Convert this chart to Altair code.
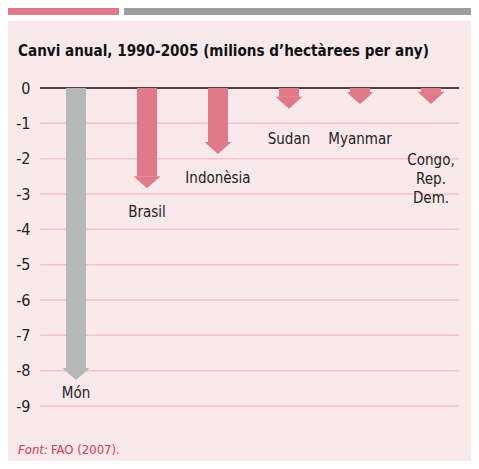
import altair as alt
import pandas as pd

countries = ["Món", "Brasil", "Indonèsia", "Sudan", "Myanmar", "Congo, Rep. Dem."]
label_lines = [["Món"], ["Brasil"], ["Indonèsia"], ["Sudan"], ["Myanmar"], ["Congo,", "Rep.", "Dem."]]
change = [-8.27, -2.84, -1.87, -0.59, -0.46, -0.45]
label_pos = [-8.64, -3.51, -2.55, -1.44, -1.44, -2.04]
kind = ["Món", "País", "País", "País", "País", "País"]
y_ticks = [0, -1, -2, -3, -4, -5, -6, -7, -8, -9]

title_text = "Canvi anual, 1990-2005 (milions d\u2019hectàrees per any)"
source_italic = "Font:"
source_text = "FAO (2007)."

FONT = "Liberation Sans Narrow, DejaVu Sans Condensed, Arial Narrow, sans-serif"
PINK = "#e07a8b"
GRAY = "#b6b7b9"
BG = "#fae9eb"
GRID = "#f3c2ca"
RED = "#d23a4d"

W, H = 419, 318

df = pd.DataFrame({
    "country": countries,
    "change": change,
    "label": label_lines,
    "label_y": label_pos,
    "kind": kind,
})
one = pd.DataFrame({"k": [0]})

xs = alt.Scale(type="point", domain=countries, range=[36, 391], padding=0)
ys = alt.Scale(domain=[-9, 0], nice=False, zero=False)
cs = alt.Scale(domain=["Món", "País"], range=[GRAY, PINK])

yaxis = alt.Axis(values=y_ticks, grid=False, domain=False, ticks=False,
                 labelPadding=10, labelFontSize=16, labelFont=FONT,
                 labelOverlap=False, labelBound=False,
                 labelExpr="toString(datum.value)",
                 labelColor="#222222", title=None)

base = alt.Chart(df)

grid = alt.Chart(pd.DataFrame({"v": y_ticks})).mark_rule(color=GRID, strokeWidth=1.5).encode(
    y=alt.Y("v:Q", scale=ys, axis=yaxis),
)

zero = alt.Chart(pd.DataFrame({"v": [0]})).mark_rule(color="#111111", strokeWidth=1.5).encode(
    y=alt.Y("v:Q", scale=ys, axis=yaxis),
)

shaft = base.mark_bar(size=20, yOffset=-12).encode(
    x=alt.X("country:N", scale=xs, axis=None),
    y=alt.Y("change:Q", scale=ys, axis=yaxis),
    y2=alt.datum(0),
    color=alt.Color("kind:N", scale=cs, legend=None),
)

head = base.mark_point(shape="M-1,-0.9L1,-0.9L0,0Z", size=729, filled=True, opacity=1, strokeWidth=0).encode(
    x=alt.X("country:N", scale=xs, axis=None),
    y=alt.Y("change:Q", scale=ys, axis=yaxis),
    color=alt.Color("kind:N", scale=cs, legend=None),
)

labels = base.mark_text(font=FONT, fontSize=15, color="#222222", baseline="middle", align="center", lineHeight=19).encode(
    x=alt.X("country:N", scale=xs, axis=None),
    y=alt.Y("label_y:Q", scale=ys, axis=yaxis),
    text="label",
)

white_strip = alt.Chart(one).mark_rect(color="white").encode(
    x=alt.value(-40), x2=alt.value(W + 20), y=alt.value(-80), y2=alt.value(-67))
pink_bar = alt.Chart(one).mark_rect(color=PINK).encode(
    x=alt.value(-40), x2=alt.value(79), y=alt.value(-80), y2=alt.value(-73))
gray_bar = alt.Chart(one).mark_rect(color="#9d9d9f").encode(
    x=alt.value(84), x2=alt.value(W + 20), y=alt.value(-80), y2=alt.value(-73))

title = alt.Chart(one).mark_text(font=FONT, fontSize=15.1, fontWeight="bold", color="#111111",
                                 align="left", baseline="middle").encode(
    x=alt.value(-22), y=alt.value(-37), text=alt.value(title_text))

src1 = alt.Chart(one).mark_text(font=FONT, fontSize=13, fontStyle="italic", color=RED,
                                align="left", baseline="middle").encode(
    x=alt.value(-22), y=alt.value(362), text=alt.value(source_italic))
src2 = alt.Chart(one).mark_text(font=FONT, fontSize=13, color=RED,
                                align="left", baseline="middle").encode(
    x=alt.value(11), y=alt.value(362), text=alt.value(source_text))

chart = alt.layer(
    grid, white_strip, pink_bar, gray_bar, title,
    zero, shaft, head, labels, src1, src2,
).properties(
    width=W, height=H,
    autosize=alt.AutoSizeParams(type="none"),
    padding={"left": 32, "top": 80, "right": 12, "bottom": 55},
    background=BG,
).configure_view(stroke=None, fill=None).configure_axis(labelOverlap=False)

chart.save("out.html", embed_options={"renderer": "svg", "actions": False})
